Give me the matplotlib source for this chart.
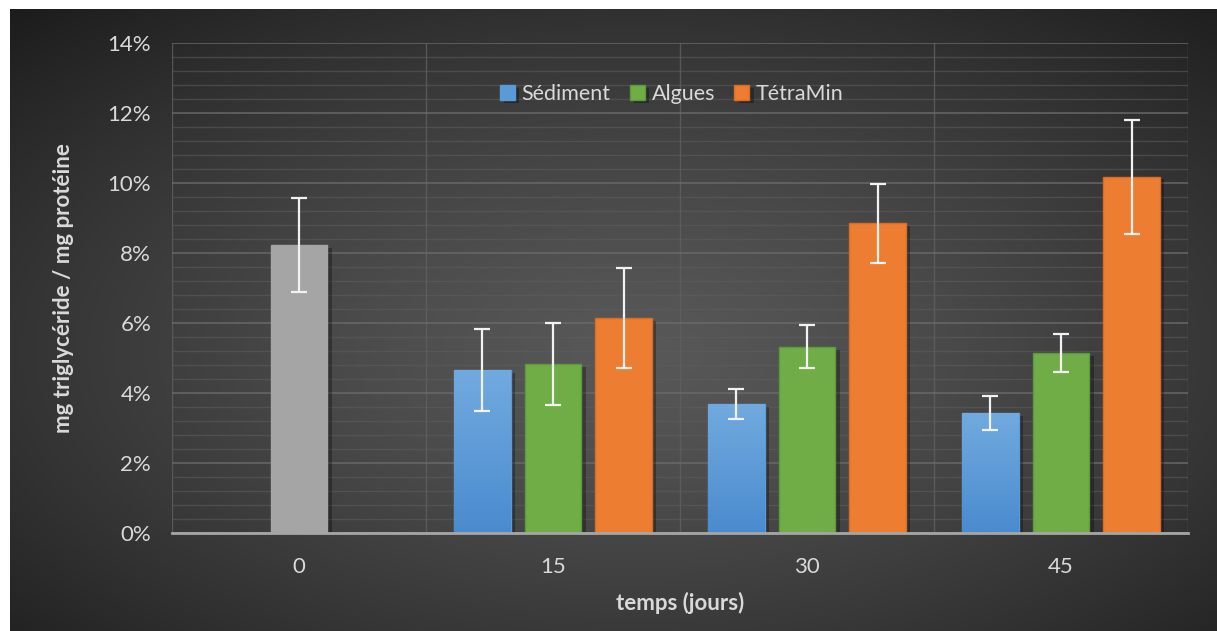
import numpy as np
import matplotlib
matplotlib.use("Agg")
import matplotlib.pyplot as plt
from matplotlib.ticker import MultipleLocator, FuncFormatter
from matplotlib.colors import LinearSegmentedColormap
import matplotlib.patheffects as pe

# ---------------- data ----------------
categories = ["0", "15", "30", "45"]
series_names = ["Sédiment", "Algues", "TétraMin"]
sediment = [np.nan, 4.65, 3.69, 3.42]
sediment_err = [np.nan, 1.17, 0.43, 0.49]
algues = [np.nan, 4.83, 5.32, 5.15]
algues_err = [np.nan, 1.16, 0.61, 0.54]
tetramin = [np.nan, 6.14, 8.85, 10.18]
tetramin_err = [np.nan, 1.43, 1.13, 1.63]
control = [8.23, np.nan, np.nan, np.nan]
control_err = [1.35, np.nan, np.nan, np.nan]

colors = ["#5b9bd5", "#70ad47", "#ed7d31"]
control_color = "#a5a5a5"
text_color = "#d9d9d9"

W, H = 1217, 631
fig = plt.figure(figsize=(W / 100, H / 100), dpi=100)
fig.patch.set_facecolor("white")

# ---------- background radial gradient ----------
bg = fig.add_axes([10 / W, 0, 1 - 10 / W, 1 - 9 / H])
bg.set_axis_off()
yy, xx = np.mgrid[0:300, 0:600]
xn = xx / 599.0
yn = yy / 299.0
cx, cy = 0.52, 0.55
r = np.sqrt(((xn - cx) / 0.75) ** 2 + ((yn - cy) / 0.75) ** 2)
r = np.clip(r / r.max(), 0, 1)
val = (0x58 - (0x58 - 0x1c) * r ** 1.3) / 255.0
bg.imshow(np.dstack([val, val, val]), aspect="auto", extent=[0, 1, 0, 1],
          origin="upper", interpolation="bilinear")
bg.set_xlim(0, 1)
bg.set_ylim(0, 1)

# ---------- main axes ----------
ax = fig.add_axes([172 / W, (H - 533) / H, 1016 / W, 490 / H])
ax.set_facecolor("none")
x = np.arange(len(categories))
width = 0.224
step = 0.278

ax.set_xlim(-0.5, len(categories) - 0.5)
ax.set_ylim(0, 14)

# grid
ax.yaxis.set_major_locator(MultipleLocator(2))
ax.yaxis.set_minor_locator(MultipleLocator(0.4))
ax.grid(axis="y", which="major", color="#6a6a6a", linewidth=1.3, alpha=0.8, zorder=0)
ax.grid(axis="y", which="minor", color="#5e5e5e", linewidth=1.0, alpha=0.55, zorder=0)
for b in np.arange(-0.5, len(categories), 1.0):
    ax.axvline(b, color="#606060", linewidth=1.0, alpha=0.8, zorder=0)

shadow = [pe.SimplePatchShadow(offset=(3, -2), shadow_rgbFace="black", alpha=0.3), pe.Normal()]

err_kw = dict(ecolor="#f2f2f2", elinewidth=1.6, capsize=6, capthick=1.6, zorder=5)

series = [(sediment, sediment_err), (algues, algues_err), (tetramin, tetramin_err)]
edge = ["#5b9bd5", "#5e9a3b", "#d96d26"]
for i, ((vals, errs), c) in enumerate(zip(series, colors)):
    pos = x + (i - 1) * step
    bars = ax.bar(pos, vals, width, color=c, edgecolor=edge[i], linewidth=1.0,
                  label=series_names[i], zorder=3)
    for bar in bars:
        bar.set_path_effects(shadow)
    if i == 0:
        cmap = LinearSegmentedColormap.from_list("b", ["#4a8bcf", "#72aadf"])
        for bar, v in zip(bars, vals):
            if np.isnan(v):
                continue
            grad = np.linspace(0, 1, 100).reshape(-1, 1)
            im = ax.imshow(grad, cmap=cmap, aspect="auto", origin="lower",
                           extent=[bar.get_x(), bar.get_x() + bar.get_width(), 0, v],
                           zorder=3.5)
            im.set_clip_path(bar)
    ax.errorbar(pos, vals, yerr=errs, fmt="none", **err_kw)

cb = ax.bar(x, control, width, color=control_color, edgecolor=control_color, zorder=3)
for bar in cb:
    bar.set_path_effects(shadow)
ax.errorbar(x, control, yerr=control_err, fmt="none", **err_kw)
ax.set_xlim(-0.5, len(categories) - 0.5)
ax.set_ylim(0, 14)

# spines
for s in ["top", "right", "left"]:
    ax.spines[s].set_visible(False)
ax.spines["bottom"].set_color("#a6a6a6")
ax.spines["bottom"].set_linewidth(2)
ax.spines["bottom"].set_zorder(6)

fs = 16
ax.set_xticks(x)
ax.set_xticklabels(categories)
ax.yaxis.set_major_formatter(FuncFormatter(lambda v, p: f"{v:.0f}%"))
ax.tick_params(axis="both", which="both", length=0, colors=text_color, labelsize=fs)
ax.tick_params(axis="y", pad=15)
ax.tick_params(axis="x", pad=17)
for lab in ax.get_xticklabels() + ax.get_yticklabels():
    lab.set_fontfamily("Lato")

ax.set_xlabel("temps (jours)", fontsize=fs, fontweight="bold", color=text_color,
              fontfamily="Lato", labelpad=11)
ax.set_ylabel("mg triglycéride / mg protéine", fontsize=fs, fontweight="bold",
              color=text_color, fontfamily="Lato", labelpad=24)

leg = ax.legend(loc="upper center", bbox_to_anchor=(0.492, 0.955), ncol=3, frameon=False,
                handlelength=0.7, handleheight=0.7, handletextpad=0.3, columnspacing=0.9,
                prop={"family": "Lato", "size": 15.5})
for t in leg.get_texts():
    t.set_color(text_color)

fig.savefig("out.png", dpi=100, facecolor=fig.get_facecolor())
